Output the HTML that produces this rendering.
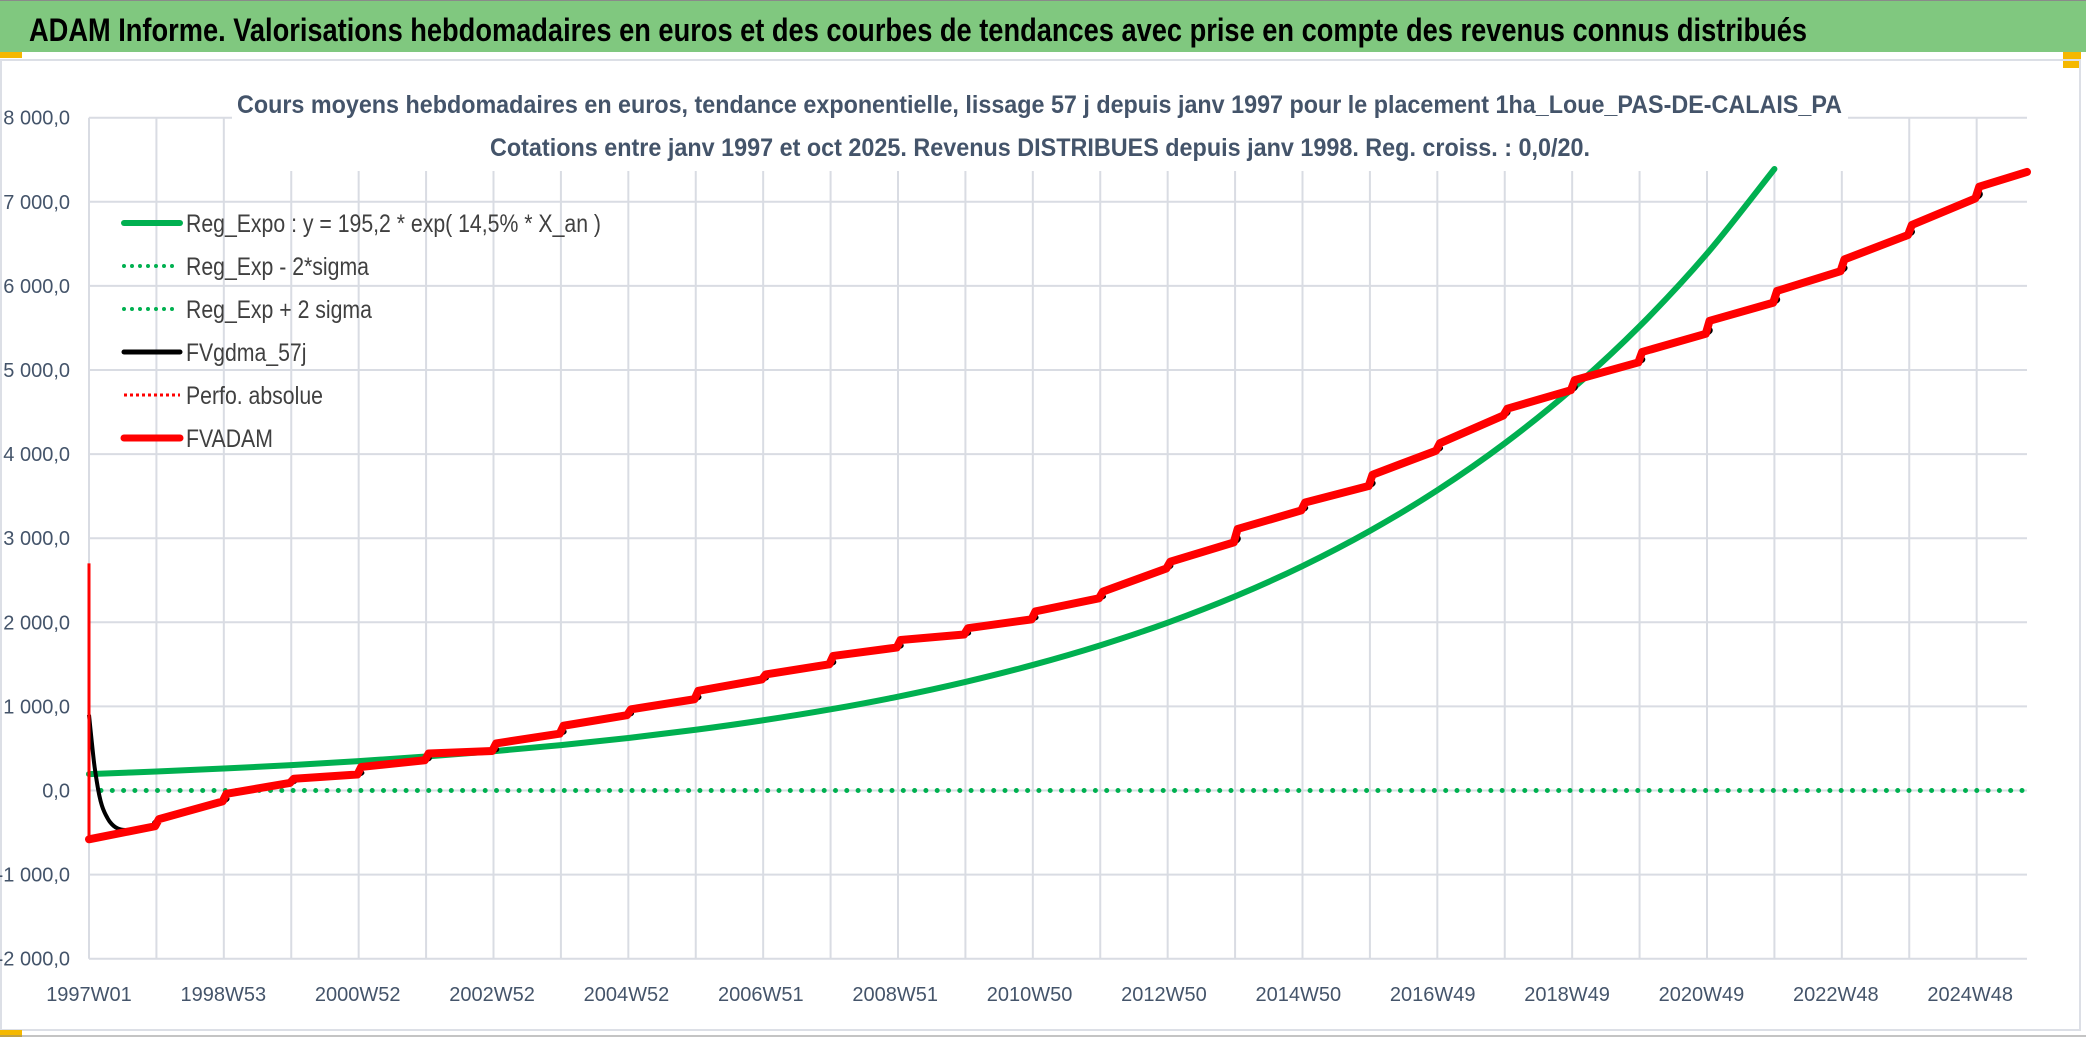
<!DOCTYPE html>
<html><head><meta charset="utf-8"><style>
html,body{margin:0;padding:0;background:#fff;}
svg{display:block;font-family:"Liberation Sans",sans-serif;}
</style></head><body>
<svg id="chart" width="2086" height="1037" viewBox="0 0 2086 1037" xmlns="http://www.w3.org/2000/svg">
<rect x="0" y="0" width="2086" height="1037" fill="#ffffff"/>
<rect x="0" y="0" width="2086" height="52" fill="#80c87f"/>
<line x1="0" y1="0.5" x2="2086" y2="0.5" stroke="#8a8a8a" stroke-width="1"/>
<text x="29" y="41" font-size="32" font-weight="bold" fill="#000" textLength="1778" lengthAdjust="spacingAndGlyphs">ADAM Informe. Valorisations hebdomadaires en euros et des courbes de tendances avec prise en compte des revenus connus distribués</text>
<rect x="0" y="52" width="22" height="6" fill="#f5b800"/>
<rect x="2063" y="52" width="18" height="16" fill="#f5b800"/>
<rect x="1" y="60" width="2079" height="970" fill="none" stroke="#dcdfe6" stroke-width="2"/>
<rect x="0" y="1030" width="22" height="7" fill="#f5b800"/>
<line x1="0" y1="1036" x2="2086" y2="1036" stroke="#8a8a8a" stroke-width="1"/>
<g id="grid"></g>
<g id="axes"></g>
<rect x="232" y="78" width="1616" height="93" fill="#fff"/>
<text x="237" y="113" font-size="25" font-weight="bold" fill="#44546a" textLength="1605" lengthAdjust="spacingAndGlyphs">Cours moyens hebdomadaires en euros, tendance exponentielle, lissage 57 j depuis janv 1997 pour le placement 1ha_Loue_PAS-DE-CALAIS_PA</text>
<text x="490" y="156" font-size="25" font-weight="bold" fill="#44546a" textLength="1100" lengthAdjust="spacingAndGlyphs">Cotations entre janv 1997 et oct 2025. Revenus DISTRIBUES depuis janv 1998. Reg. croiss. : 0,0/20.</text>
<g id="series"></g>
<g id="legend"></g>
</svg>
<script>
const yTicks = [-2000,-1000,0,1000,2000,3000,4000,5000,6000,7000,8000];
const yTickLabels = ["-2 000,0","-1 000,0","0,0","1 000,0","2 000,0","3 000,0","4 000,0","5 000,0","6 000,0","7 000,0","8 000,0"];
const xTickWeeks = [0,104,208,312,416,520,624,728,832,936,1040,1144,1248,1352,1456];
const xTickLabels = ["1997W01","1998W53","2000W52","2002W52","2004W52","2006W51","2008W51","2010W50","2012W50","2014W50","2016W49","2018W49","2020W49","2022W48","2024W48"];
const expYears = [0,1,2,3,4,5,6,7,8,9,10,11,12,13,14,15,16,17,18,19,20,21,22,23,24,25];
const expValues = [195,226,261,302,349,404,467,540,624,722,835,965,1116,1291,1493,1726,1996,2308,2669,3087,3570,4128,4774,5520,6384,7390];
const redStart = -580;
const redPre = [-425,-130,90,190,360,470,675,895,1085,1320,1500,1700,1855,2035,2285,2640,2950,3330,3620,4040,4460,4760,5090,5430,5800,6175,6605,7040];
const redPost = [-340,-40,140,280,440,560,770,965,1185,1380,1600,1790,1930,2130,2365,2720,3110,3425,3755,4130,4540,4880,5215,5585,5940,6315,6725,7180];
const redEnd = 7355;
const blackEarlyWeeks = [0,2,4,6,8,10,12,14,16,19,22,25,28,34,40,46,51];
const blackEarlyValues = [900,600,320,110,-60,-180,-260,-320,-370,-420,-450,-465,-470,-465,-455,-440,-425];
const spikeTop = 2700;
const zeroLineValue = 0;

const NS="http://www.w3.org/2000/svg";
const X0=89, X1=2027, WEEKS=1500, Y0=790.5, PPK=84.1;
const xs = w => X0 + w*(X1-X0)/WEEKS;
const ys = v => Y0 - v*PPK/1000;
const WPY = 52.18;
function mk(tag, attrs, parent){const e=document.createElementNS(NS,tag);for(const k in attrs)e.setAttribute(k,attrs[k]);parent.appendChild(e);return e;}
const grid=document.getElementById('grid'), axes=document.getElementById('axes'), series=document.getElementById('series'), legend=document.getElementById('legend');

yTicks.forEach((v,i)=>{
  const l=mk('line',{x1:X0,x2:X1,y1:ys(v),y2:ys(v),stroke:'#d9dce3','stroke-width':2},grid);
  
  
  const t=mk('text',{x:70,y:ys(v)+7,'font-size':20,'text-anchor':'end',fill:'#44546a'},axes);
  t.textContent=yTickLabels[i];
  
  
});
for(let k=0;k*WPY<=WEEKS;k++){
  const l=mk('line',{x1:xs(k*WPY),x2:xs(k*WPY),y1:ys(8000),y2:ys(-2000),stroke:'#d9dce3','stroke-width':2},grid);
  
  
}
xTickWeeks.forEach((w,i)=>{
  const t=mk('text',{x:xs(w),y:1001,'font-size':20,'text-anchor':'middle',fill:'#44546a'},axes);
  t.textContent=xTickLabels[i];
  
  
});

const z=mk('line',{x1:xs(0)+12,x2:X1,y1:ys(zeroLineValue),y2:ys(zeroLineValue),stroke:'#00b050','stroke-width':5,'stroke-linecap':'round','stroke-dasharray':'0 11.3'},series);



function smoothPath(pts){let d='M'+pts[0][0]+','+pts[0][1];for(let i=0;i<pts.length-1;i++){const p0=pts[i-1]||pts[i],p1=pts[i],p2=pts[i+1],p3=pts[i+2]||p2;d+=' C'+(p1[0]+(p2[0]-p0[0])/6)+','+(p1[1]+(p2[1]-p0[1])/6)+' '+(p2[0]-(p3[0]-p1[0])/6)+','+(p2[1]-(p3[1]-p1[1])/6)+' '+p2[0]+','+p2[1];}return d;}
const gp=expYears.map((y,i)=>[xs(y*WPY),ys(expValues[i])]);
const g=mk('path',{d:smoothPath(gp),fill:'none',stroke:'#00b050','stroke-width':6,'stroke-linecap':'round'},series);



const redPts=[[0,redStart]];
redPre.forEach((v,i)=>{const w=(i+1)*WPY;redPts.push([w-1,v]);redPts.push([w+2,redPost[i]]);});
redPts.push([WEEKS,redEnd]);
const blackPts=blackEarlyWeeks.map((w,i)=>[w,blackEarlyValues[i]]).concat(redPts.filter(p=>p[0]>52).map(p=>[p[0]+1,p[1]]));
const b=mk('path',{d:smoothPath(blackPts.map(p=>[xs(p[0]),ys(p[1])])),fill:'none',stroke:'#000','stroke-width':4,'stroke-linejoin':'round'},series);


const sp=mk('line',{x1:xs(0),x2:xs(0),y1:ys(spikeTop),y2:ys(redStart),stroke:'#ff0000','stroke-width':3},series);


const r=mk('polyline',{points:redPts.map(p=>xs(p[0])+','+ys(p[1])).join(' '),fill:'none',stroke:'#ff0000','stroke-width':8,'stroke-linejoin':'round','stroke-linecap':'round'},series);



const legItems=[
 ['Reg_Expo : y = 195,2 * exp( 14,5% *  X_an )','#00b050',6,null,'legend-reg-expo'],
 ['Reg_Exp - 2*sigma','#00b050',4,'0 8','legend-reg-exp-minus'],
 ['Reg_Exp + 2 sigma','#00b050',4,'0 8','legend-reg-exp-plus'],
 ['FVgdma_57j','#000000',5,null,'legend-fvgdma'],
 ['Perfo. absolue','#ff0000',3,'3 3','legend-perfo'],
 ['FVADAM','#ff0000',7,null,'legend-fvadam']];
legItems.forEach((it,i)=>{
  const y=223+i*43;
  const gg=mk('g',{},legend);
  
  
  const a={x1:124,x2:180,y1:y,y2:y,stroke:it[1],'stroke-width':it[2],'stroke-linecap':'round'};
  if(it[3])a['stroke-dasharray']=it[3];
  if(it[3]&&!it[3].startsWith('0'))a['stroke-linecap']='butt';
  mk('line',a,gg);
  const t=mk('text',{x:186,y:y+9,'font-size':25,fill:'#404040',transform:'translate(186 0) scale(0.85 1) translate(-186 0)'},gg);
  t.textContent=it[0];
});
</script>
</body></html>
